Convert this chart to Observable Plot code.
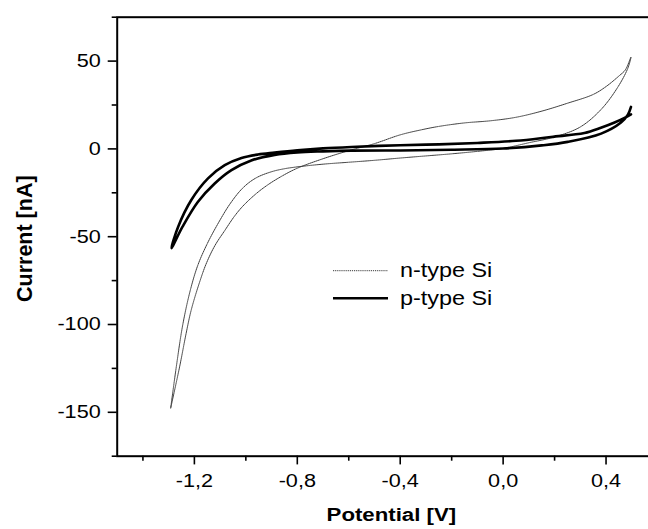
<!DOCTYPE html>
<html><head><meta charset="utf-8">
<script src="https://cdn.jsdelivr.net/npm/d3@7"></script>
<script src="https://cdn.jsdelivr.net/npm/@observablehq/plot@0.6"></script>
<style>
html,body{margin:0;padding:0;background:#fff;overflow:hidden;}
#wrap{position:relative;width:648px;height:529px;overflow:hidden;background:#fff;}
#legend{position:absolute;left:0;top:0;pointer-events:none;}
</style></head><body><div id="wrap"></div>
<script>
const xDomain = [-1.5, 0.6];
const yDomain = [-175, 75];
const xMajorTicks = [-1.2, -0.8, -0.4, 0, 0.4];
const xMinorTicks = [-1.4, -1.0, -0.6, -0.2, 0.2];
const yMajorTicks = [50, 0, -50, -100, -150];
const yMinorTicks = [75, 25, -25, -75, -125, -175];
const xLabel = "Potential [V]";
const yLabel = "Current [nA]";
const seriesNames = ["n-type Si", "p-type Si"];

const nPotential = [-1.292,-1.270,-1.245,-1.215,-1.186,-1.150,-1.110,-1.060,-1.010,-0.960,-0.900,-0.850,-0.798,-0.70,-0.60,-0.50,-0.40,-0.30,-0.20,-0.10,0.00,0.10,0.20,0.30,0.381,0.445,0.484,0.497,
  0.475,0.450,0.400,0.350,0.250,0.150,0.050,-0.050,-0.150,-0.250,-0.320,-0.400,-0.500,-0.600,-0.700,-0.800,-0.860,-0.915,-0.960,-1.011,-1.045,-1.082,-1.120,-1.153,-1.180,-1.212,-1.232,-1.257,-1.292];
const nCurrent = [-147.5,-123.8,-100.0,-80.0,-66.0,-54.0,-43.0,-31.0,-22.0,-16.5,-13.0,-11.3,-10.2,-8.7,-7.6,-6.5,-5.2,-4.0,-2.8,-1.4,0.3,3.5,6.8,12.5,22.5,35.0,45.7,52.3,
  45.0,41.5,35.5,31.0,26.0,21.5,18.0,16.0,14.8,12.8,10.8,8.0,3.0,-1.0,-5.6,-11.0,-15.5,-20.5,-25.5,-32.5,-38.5,-46.5,-55.0,-65.0,-76.0,-91.6,-105.0,-123.8,-147.5];

const pPotential = [0.497,0.470,0.433,0.380,0.316,0.186,0.050,-0.100,-0.250,-0.400,-0.590,-0.700,-0.800,-0.888,-0.953,-1.017,-1.082,-1.147,-1.212,-1.263,-1.289,
  -1.246,-1.186,-1.121,-1.056,-0.979,-0.888,-0.800,-0.700,-0.590,-0.400,-0.200,0.000,0.150,0.251,0.381,0.458,0.485,0.497];
const pCurrent = [19.7,17.5,15.0,12.0,9.0,6.8,4.6,3.4,2.6,2.1,1.1,0.3,-0.8,-2.1,-3.2,-5.2,-9.3,-16.8,-29.1,-44.3,-56.5,
  -44.3,-30.1,-19.7,-12.1,-6.6,-3.4,-2.0,-1.4,-1.0,-0.9,-0.5,0.2,2.0,4.0,8.7,15.0,19.5,23.9];

const nData = nPotential.map((v, i) => ({V: v, I: nCurrent[i]}));
const pData = pPotential.map((v, i) => ({V: v, I: pCurrent[i]}));

const fmtX = d => d3.format(".1f")(d).replace("\u2212", "-").replace(".", ",");
const fmtY = d => String(d);

const chart = Plot.plot({
  width: 657, height: 529,
  marginLeft: 116.7, marginRight: 0, marginTop: 16.7, marginBottom: 73.3,
  x: {domain: xDomain},
  y: {domain: yDomain},
  style: {fontFamily: "'Liberation Sans', Arial, sans-serif", fontSize: "18.5px", color: "#000", background: "#fff", maxWidth: "none", overflow: "hidden"},
  marks: [
    Plot.line(nData, {x: "V", y: "I", stroke: "#3a3a3a", strokeWidth: 1, strokeDasharray: "1.2,0.9", curve: "catmull-rom"}),
    Plot.line(pData, {x: "V", y: "I", stroke: "#000", strokeWidth: 2.6, curve: "catmull-rom"}),
    Plot.frame({stroke: "#000", strokeWidth: 2}),
    Plot.axisX({ticks: xMajorTicks, tickSize: 8.7, tickPadding: 9, tickFormat: fmtX, label: null, strokeWidth: 1.6, fontSize: 18.5}),
    Plot.axisX({ticks: xMinorTicks, tickSize: 5, tickFormat: () => "", label: null, strokeWidth: 1.6}),
    Plot.axisY({ticks: yMajorTicks, tickSize: 9, tickPadding: 7.5, tickFormat: fmtY, label: null, strokeWidth: 1.6, fontSize: 18.5}),
    Plot.axisY({ticks: yMinorTicks, tickSize: 5, tickFormat: () => "", label: null, strokeWidth: 1.6}),
    Plot.text([xLabel], {frameAnchor: "bottom", dx: 4, dy: 59, text: d => d, fontWeight: "bold", fontSize: 19, textAnchor: "middle", lineAnchor: "middle"}),
    Plot.text([yLabel], {frameAnchor: "left", dx: -92.5, dy: 2, rotate: -90, text: d => d, fontWeight: "bold", fontSize: 21.5, textAnchor: "middle", lineAnchor: "middle"})
  ]
});

// horizontal stretch of horizontal texts (scale about each text's own anchor)
function stretch(root, s) {
  root.querySelectorAll("text").forEach(t => {
    const tr = t.getAttribute("transform") || "";
    if (tr.includes("rotate")) return;
    t.setAttribute("transform", (tr + ` scale(${s},1)`).trim());
  });
}
stretch(chart, 1.17);

const wrap = document.getElementById("wrap");
wrap.appendChild(chart);

// legend overlay
const lg = d3.select(wrap).append("svg").attr("id", "legend").attr("width", 648).attr("height", 529);
const legendStyles = [
  {stroke: "#3a3a3a", width: 1, dash: "1.2,0.9", y: 270.7},
  {stroke: "#000", width: 2.6, dash: null, y: 298.3}
];
seriesNames.forEach((name, i) => {
  const st = legendStyles[i];
  lg.append("line").attr("x1", 333).attr("x2", 388).attr("y1", st.y).attr("y2", st.y)
    .attr("stroke", st.stroke).attr("stroke-width", st.width).attr("stroke-dasharray", st.dash);
  lg.append("text").attr("transform", `translate(400,${st.y + 6.2}) scale(1.2,1)`)
    .attr("font-family", "'Liberation Sans', Arial, sans-serif").attr("font-size", 19.5).attr("fill", "#000")
    .text(name);
});
</script></body></html>
